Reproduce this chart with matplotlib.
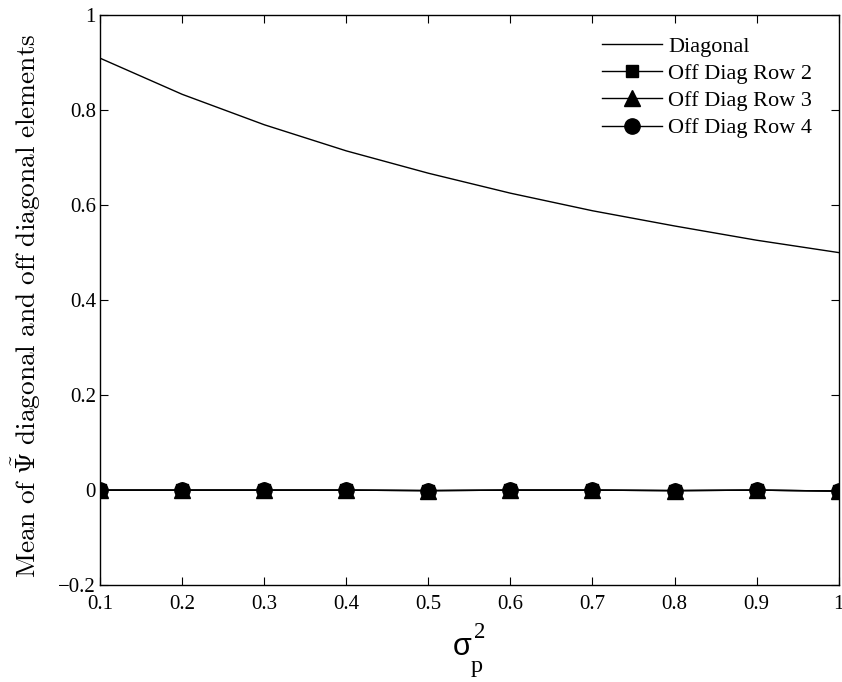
import matplotlib
matplotlib.use("Agg")
import matplotlib.pyplot as plt

sigma_p2 = [0.1, 0.2, 0.3, 0.4, 0.5, 0.6, 0.7, 0.8, 0.9, 1.0]
diagonal = [0.909, 0.833, 0.769, 0.714, 0.667, 0.625, 0.588, 0.556, 0.526, 0.500]
off_row2 = [0.0, 0.0, 0.0, 0.0, -0.001, 0.0, 0.0, -0.001, 0.0, -0.002]
off_row3 = [0.0, 0.0, 0.0, 0.0, -0.001, 0.0, 0.0, -0.001, 0.0, -0.002]
off_row4 = [0.0, 0.0, 0.0, 0.0, -0.001, 0.0, 0.0, -0.001, 0.0, -0.002]

xticks = [0.1, 0.2, 0.3, 0.4, 0.5, 0.6, 0.7, 0.8, 0.9, 1.0]
xticklabels = ["0.1", "0.2", "0.3", "0.4", "0.5", "0.6", "0.7", "0.8", "0.9", "1"]
yticks = [-0.2, 0, 0.2, 0.4, 0.6, 0.8, 1.0]
yticklabels = ["\u22120.2", "0", "0.2", "0.4", "0.6", "0.8", "1"]

plt.rcParams['font.family'] = ['Liberation Serif', 'DejaVu Serif']
plt.rcParams['mathtext.fontset'] = 'stix'

fig = plt.figure(figsize=(8.42, 6.82), dpi=100)
ax = fig.add_axes([0.119, 0.142, 0.877, 0.836])

ax.plot(sigma_p2, diagonal, color='black', lw=1.0, label='Diagonal')
ax.plot(sigma_p2, off_row2, color='black', lw=1.0, marker='s', ms=8.5, label='Off Diag Row 2')
ax.plot(sigma_p2, off_row3, color='black', lw=1.0, marker='^', ms=11, label='Off Diag Row 3')
ax.plot(sigma_p2, off_row4, color='black', lw=1.0, marker='o', ms=11, label='Off Diag Row 4')

ax.set_xlim(0.1, 1.0)
ax.set_ylim(-0.2, 1.0)
ax.set_xticks(xticks)
ax.set_xticklabels(xticklabels)
ax.set_yticks(yticks)
ax.set_yticklabels(yticklabels)
ax.tick_params(direction='in', length=6, width=0.8, labelsize=15, top=True, right=True)
ax.tick_params(axis='x', pad=7)
ax.tick_params(axis='y', pad=3)
for s in ax.spines.values():
    s.set_linewidth(1.0)

ax.set_ylabel(r'$\mathrm{Mean\ of\ }\tilde{\mathbf{\Psi}}\mathrm{\ diagonal\ and\ off\ diagonal\ elements}$',
              fontsize=19.7, math_fontfamily='cm')
ax.yaxis.set_label_coords(-0.078, 0.49)

# x label: sigma_p^2 composed of three text pieces
fig.text(453 / 842, 1 - 655 / 682, '\u03c3', fontsize=22, ha='left', va='baseline',
         family=['Liberation Sans', 'DejaVu Sans'])
fig.text(474 / 842, 1 - 638 / 682, '2', fontsize=16.5, ha='left', va='baseline')
fig.text(471 / 842, 1 - 672 / 682, 'p', fontsize=17.5, ha='left', va='baseline')

leg = ax.legend(loc='upper right', frameon=False, fontsize=16, handlelength=2.7,
                handletextpad=0.25, labelspacing=0.3, borderaxespad=0.3,
                bbox_to_anchor=(0.985, 0.99))

fig.savefig('out.png', dpi=100)
